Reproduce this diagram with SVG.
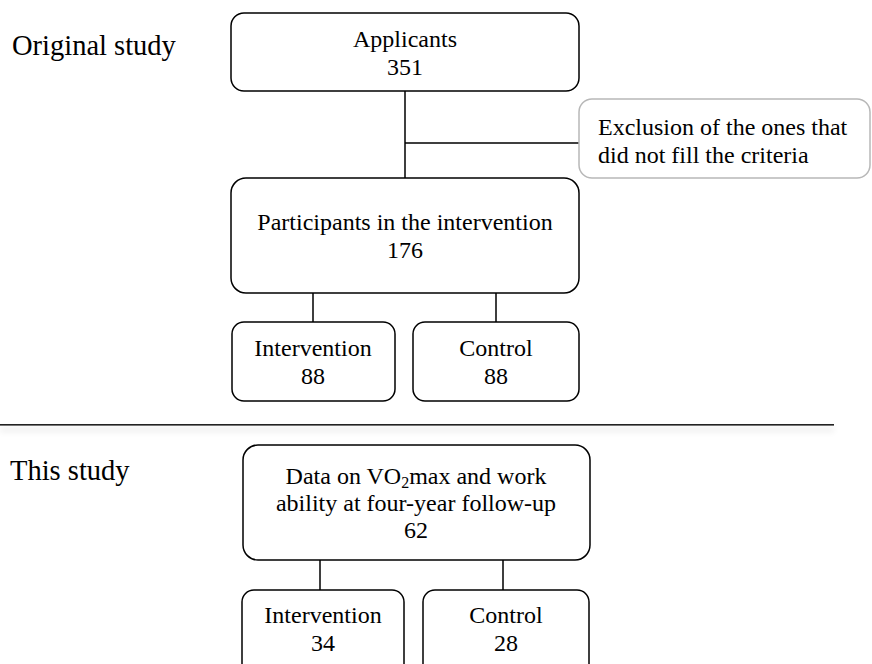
<svg xmlns="http://www.w3.org/2000/svg" width="872" height="664" viewBox="0 0 872 664">
<defs>
<filter id="sh" filterUnits="userSpaceOnUse" x="-20" y="405" width="900" height="45">
<feGaussianBlur in="SourceAlpha" stdDeviation="3"/>
<feOffset dy="5"/>
<feComponentTransfer><feFuncA type="linear" slope="0.2"/></feComponentTransfer>
<feMerge><feMergeNode/><feMergeNode in="SourceGraphic"/></feMerge>
</filter>
</defs>
<style>
text{font-family:"Liberation Serif","Times New Roman",serif;font-size:24px;fill:#000;text-anchor:middle}
.lbl{text-anchor:start;font-size:28.5px}
.box{fill:#fff;stroke:#000;stroke-width:1.5}
.gbox{fill:#fff;stroke:#b8b8b8;stroke-width:1.5}
.ln{stroke:#000;stroke-width:1.5;fill:none}
</style>
<rect width="872" height="664" fill="#fff"/>
<text class="lbl" x="12" y="55">Original study</text>
<text class="lbl" x="10" y="480">This study</text>
<rect x="0" y="424" width="834" height="1.6" fill="#222" filter="url(#sh)"/>
<g id="connectors">
<path class="ln" d="M405 91V178M405 143H579"/>
<path class="ln" d="M313 293V322M496 293V322"/>
<path class="ln" d="M320 560V590M503 560V590"/>
</g>
<g id="applicants"><rect class="box" x="231" y="13" width="348" height="78" rx="13"/>
<text x="405" y="47">Applicants</text><text x="405" y="75">351</text></g>
<g id="exclusion"><rect class="gbox" x="579" y="99" width="291" height="79" rx="13"/>
<text style="text-anchor:start" x="598" y="135">Exclusion of the ones that</text>
<text style="text-anchor:start" x="598" y="163">did not fill the criteria</text></g>
<g id="participants"><rect class="box" x="231" y="178" width="348" height="115" rx="15"/>
<text x="405" y="230">Participants in the intervention</text><text x="405" y="258">176</text></g>
<g id="intervention1"><rect class="box" x="232" y="322" width="163" height="79" rx="12"/>
<text x="313" y="356">Intervention</text><text x="313" y="384">88</text></g>
<g id="control1"><rect class="box" x="413" y="322" width="166" height="79" rx="12"/>
<text x="496" y="356">Control</text><text x="496" y="384">88</text></g>
<g id="data"><rect class="box" x="243" y="445" width="347" height="115" rx="15"/>
<text x="416" y="484">Data on VO<tspan font-size="16" dy="4">2</tspan><tspan dy="-4">max and work</tspan></text>
<text x="416" y="511">ability at four-year follow-up</text><text x="416" y="538">62</text></g>
<g id="intervention2"><rect class="box" x="242" y="590" width="162" height="90" rx="12"/>
<text x="323" y="623">Intervention</text><text x="323" y="651">34</text></g>
<g id="control2"><rect class="box" x="423" y="590" width="166" height="90" rx="12"/>
<text x="506" y="623">Control</text><text x="506" y="651">28</text></g>
</svg>
